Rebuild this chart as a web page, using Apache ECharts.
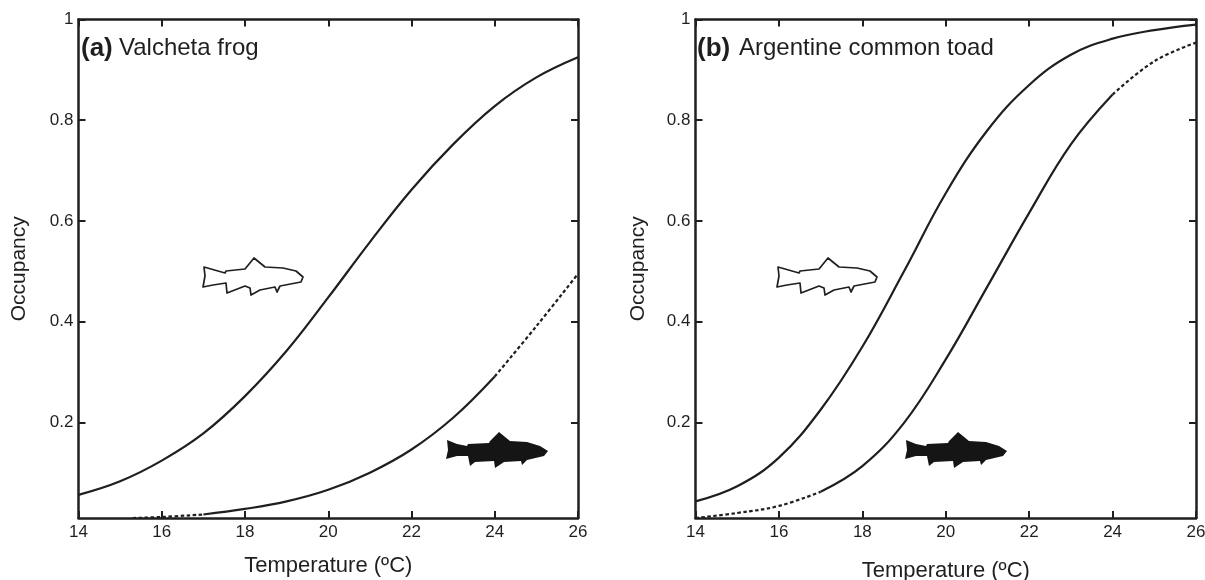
<!DOCTYPE html>
<html><head><meta charset="utf-8">
<style>html,body{margin:0;padding:0;background:#fff}#c{width:1205px;height:580px}</style>
<script src="https://cdn.jsdelivr.net/npm/echarts@6/dist/echarts.min.js"></script>
</head><body><div id="c"></div>
<script>
const xTicks = [14,16,18,20,22,24,26];
const yTicks = [0.2,0.4,0.6,0.8,1];
const frogUpper = [[14,.056],[15,.083],[16,.124],[17,.178],[18,.252],[19,.342],[20,.448],[21,.558],[22,.662],[23,.752],[24,.828],[25,.885],[26,.925]];
const frogLowerDashA = [[15.3,.01],[16,.012],[17,.017]];
const frogLowerSolid = [[17,.017],[18,.028],[19,.043],[20,.066],[21,.1],[22,.146],[23,.209],[24,.291]];
const frogLowerDashB = [[24,.291],[25,.391],[26,.495]];
const toadUpper = [[14,.043],[15,.073],[16,.13],[17,.225],[18,.35],[19,.5],[20,.655],[21,.78],[22,.87],[23,.93],[24,.962],[25,.979],[26,.99]];
const toadLowerDashA = [[14,.01],[15,.02],[16,.034],[17,.062]];
const toadLowerSolid = [[17,.062],[18,.113],[19,.199],[20,.325],[21,.47],[22,.616],[23,.752],[24,.851]];
const toadLowerDashB = [[24,.851],[25,.917],[26,.954]];

const ink = '#1f1f1f', font = '"Liberation Sans", Arial, sans-serif';
const whiteFish = [[0,8],[21,14],[22,12],[41,10],[50,-1],[61,8],[79,9],[92,12],[99,18],[97,23],[76,27],[73,33],[71,28],[56,31],[47,36],[46,29],[41,27],[23,34],[22,24],[9,26],[-1,28],[1,17]];
const blackFish = [[1,8],[11,12],[21,14],[22,12],[43,11],[44,9],[53,0],[64,9],[81,10],[94,14],[102,19],[98,24],[81,28],[76,33],[75,29],[58,30],[49,36],[48,29],[29,30],[24,34],[22,24],[11,24],[0,27],[2,18]];

function line(name, data, i, dashed) {
  return {name, type:'line', data, xAxisIndex:i*2, yAxisIndex:i*2, showSymbol:false, symbol:'none', smooth:0.4,
    lineStyle:{color:ink, width:2.2, type: dashed ? [3.5,2.5] : 'solid'}, silent:true, z:3};
}
const grids = [{left:78.5,top:19.5,width:499.5,height:498.5,outerBoundsMode:'none'},{left:695.5,top:19.5,width:500.5,height:498.5,outerBoundsMode:'none'}];
const xAxes=[], yAxes=[];
grids.forEach((g,i)=>{
  const tick={show:true,inside:true,length:7,lineStyle:{color:ink,width:2}};
  const al={show:true,onZero:false,lineStyle:{color:ink,width:2.5}};
  xAxes.push({type:'value',gridIndex:i,min:14,max:26,interval:2,position:'bottom',axisLine:al,axisTick:tick,splitLine:{show:false},
    axisLabel:{show:true,color:ink,fontFamily:font,fontSize:17,margin:6,customValues:xTicks,showMinLabel:true,showMaxLabel:true},
    name:'Temperature (ºC)',nameLocation:'middle',nameGap:i?42:37,nameTextStyle:{color:ink,fontFamily:font,fontSize:22}});
  xAxes.push({type:'value',gridIndex:i,min:14,max:26,interval:2,position:'top',axisLine:al,axisTick:tick,axisLabel:{show:false},splitLine:{show:false}});
  yAxes.push({type:'value',gridIndex:i,min:0.01,max:1,position:'left',axisLine:al,splitLine:{show:false},
    axisTick:{...tick,customValues:yTicks},
    axisLabel:{show:true,color:ink,fontFamily:font,fontSize:17,margin:5,padding:[3,0,0,0],verticalAlignMaxLabel:'middle',customValues:yTicks,formatter:v=>String(+v.toFixed(1))},
    name:'Occupancy',nameLocation:'middle',nameGap:i?47:49,nameTextStyle:{color:ink,fontFamily:font,fontSize:21}});
  yAxes.push({type:'value',gridIndex:i,min:0.01,max:1,position:'right',axisLine:al,splitLine:{show:false},
    axisTick:{...tick,customValues:yTicks},axisLabel:{show:false}});
});
function fish(pts,x,y,fill,stroke){
  return {type:'polygon',x,y,shape:{points:pts},style:{fill,stroke,lineWidth:stroke==='none'?0:1.7,lineJoin:'round'},silent:true,z:5};
}
function txt(text,x,y,bold){
  return {type:'text',x,y,style:{text,fill:ink,font:(bold?'bold 26px ':'24px ')+font,textVerticalAlign:'middle'},silent:true,z:5};
}
const chart=echarts.init(document.getElementById('c'),null,{renderer:'canvas'});
chart.setOption({
  animation:false,backgroundColor:'#fff',grid:grids,xAxis:xAxes,yAxis:yAxes,
  series:[
    line('frog upper',frogUpper,0),line('frog lower a',frogLowerDashA,0,true),line('frog lower',frogLowerSolid,0),line('frog lower b',frogLowerDashB,0,true),
    line('toad upper',toadUpper,1),line('toad lower a',toadLowerDashA,1,true),line('toad lower',toadLowerSolid,1),line('toad lower b',toadLowerDashB,1,true)
  ],
  graphic:[
    txt('(a)',81,49,true),txt('Valcheta frog',119,48),
    txt('(b)',697,49,true),txt('Argentine common toad',739,48),
    fish(whiteFish,204,259,'#fff',ink),fish(whiteFish,778,259,'#fff',ink),
    fish(blackFish,446,432,'#151515','none'),fish(blackFish,905,432,'#151515','none')
  ]
});
</script></body></html>
